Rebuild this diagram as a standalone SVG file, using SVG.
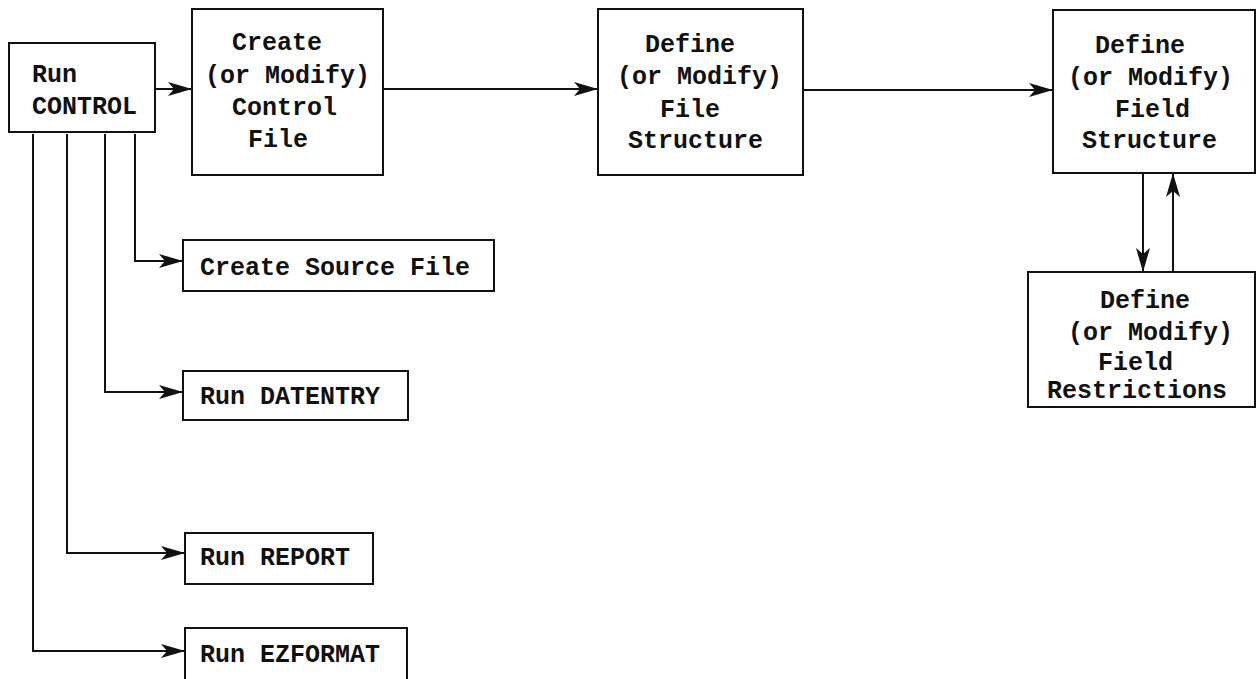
<svg xmlns="http://www.w3.org/2000/svg" width="1257" height="679" viewBox="0 0 1257 679">
  <style>
    .box { fill: #fff; stroke: #111; stroke-width: 2; }
    .wire { fill: none; stroke: #111; stroke-width: 2; }
    .lbl { font-family: "Liberation Mono", "DejaVu Sans Mono", monospace; font-size: 25px; font-weight: bold; fill: #111; }
  </style>
  <defs>
    <marker id="head" markerUnits="userSpaceOnUse" markerWidth="24" markerHeight="16" viewBox="0 0 24 16" refX="23" refY="8" orient="auto">
      <path d="M0,1 L24,8 L0,15 L6,8 Z" fill="#111"/>
    </marker>
  </defs>
  <rect width="1257" height="679" fill="#fff"/>

  <g id="connectors">
    <path class="wire" d="M155,89 H191" marker-end="url(#head)"/>
    <path class="wire" d="M383,89 H597" marker-end="url(#head)"/>
    <path class="wire" d="M803,90 H1052" marker-end="url(#head)"/>
    <path class="wire" d="M1143,173 V271" marker-end="url(#head)"/>
    <path class="wire" d="M1173,272 V174" marker-end="url(#head)"/>
    <path class="wire" d="M135,134 V261 H182" marker-end="url(#head)"/>
    <path class="wire" d="M105,134 V392 H182" marker-end="url(#head)"/>
    <path class="wire" d="M67,134 V553 H184" marker-end="url(#head)"/>
    <path class="wire" d="M33,134 V651 H184" marker-end="url(#head)"/>
  </g>

  <g id="run-control">
    <rect class="box" x="9" y="43" width="146" height="89"/>
    <text class="lbl" x="32" y="82">Run</text>
    <text class="lbl" x="32" y="114">CONTROL</text>
  </g>

  <g id="control-file">
    <rect class="box" x="192" y="9" width="191" height="166"/>
    <text class="lbl" x="232" y="50">Create</text>
    <text class="lbl" x="205" y="83">(or Modify)</text>
    <text class="lbl" x="232" y="115">Control</text>
    <text class="lbl" x="248" y="147">File</text>
  </g>

  <g id="file-structure">
    <rect class="box" x="598" y="9" width="205" height="166"/>
    <text class="lbl" x="645" y="52">Define</text>
    <text class="lbl" x="617" y="84">(or Modify)</text>
    <text class="lbl" x="660" y="117">File</text>
    <text class="lbl" x="628" y="148">Structure</text>
  </g>

  <g id="field-structure">
    <rect class="box" x="1053" y="10" width="202" height="163"/>
    <text class="lbl" x="1095" y="53">Define</text>
    <text class="lbl" x="1068" y="85">(or Modify)</text>
    <text class="lbl" x="1115" y="117">Field</text>
    <text class="lbl" x="1082" y="148">Structure</text>
  </g>

  <g id="field-restrictions">
    <rect class="box" x="1028" y="272" width="227" height="135"/>
    <text class="lbl" x="1100" y="308">Define</text>
    <text class="lbl" x="1068" y="340">(or Modify)</text>
    <text class="lbl" x="1098" y="370">Field</text>
    <text class="lbl" x="1047" y="398">Restrictions</text>
  </g>

  <g id="source-file">
    <rect class="box" x="183" y="240" width="311" height="51"/>
    <text class="lbl" x="200" y="275">Create Source File</text>
  </g>

  <g id="datentry">
    <rect class="box" x="183" y="371" width="225" height="49"/>
    <text class="lbl" x="200" y="404">Run DATENTRY</text>
  </g>

  <g id="report">
    <rect class="box" x="185" y="533" width="188" height="51"/>
    <text class="lbl" x="200" y="565">Run REPORT</text>
  </g>

  <g id="ezformat">
    <rect class="box" x="185" y="628" width="222" height="70"/>
    <text class="lbl" x="200" y="662">Run EZFORMAT</text>
  </g>
</svg>
